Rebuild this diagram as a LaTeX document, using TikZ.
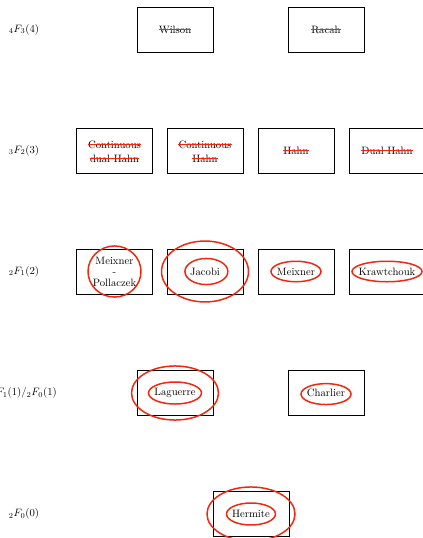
\documentclass[tikz,border=0pt]{standalone}
\definecolor{ringred}{RGB}{240,40,15}
\begin{document}
\begin{tikzpicture}[x=0.0329cm,y=-0.0329cm,
  box/.style={draw,line width=0.6pt,minimum width=2.5cm,minimum height=1.48cm,align=center,inner sep=1pt},
  txt/.style={inner sep=0pt,anchor=base},
  lab/.style={inner sep=0pt},
  strike/.style={draw=ringred,line width=1pt},
  ring/.style={draw=ringred,line width=1.4pt}]
\useasboundingbox (0,0) rectangle (423,538);
\clip (0,0) rectangle (423,538);
% row labels
\node[lab] (l1) at (24,29.5) {$_4F_3(4)$};
\node[lab] (l2) at (24,150.5) {$_3F_2(3)$};
\node[lab] (l3) at (24,271.5) {$_2F_1(2)$};
\node[lab] (l4) at (24,393) {$_1F_1(1)/{}_2F_0(1)$};
\node[lab] (l5) at (24,514) {$_2F_0(0)$};
% row 1
\node[box] (wilson) at (175,29.5) {};
\node[txt] (wilsont) at (175,33) {Wilson};
\node[box] (racah) at (326,29.5) {};
\node[txt] (racaht) at (326,33) {Racah};
% row 2
\node[box] (cdh) at (114.5,150.5) {};
\node[txt] (cdht1) at (114.5,148.5) {Continuous};
\node[txt] (cdht2) at (114.5,162.5) {dual Hahn};
\node[box] (ch) at (205,150.5) {};
\node[txt] (cht1) at (205,148.5) {Continuous};
\node[txt] (cht2) at (205,162.5) {Hahn};
\node[box] (hahn) at (296,150.5) {};
\node[txt] (hahnt) at (296,154) {Hahn};
\node[box] (dh) at (387,150.5) {};
\node[txt] (dht) at (387,154) {Dual Hahn};
% row 3
\node[box] (mp) at (114.5,271.5) {Meixner\\[-1.7pt]-\\[-1.7pt]Pollaczek};
\node[box] (jacobi) at (205,271.5) {Jacobi};
\node[box] (meixner) at (296,271.5) {Meixner};
\node[box] (kraw) at (387,271.5) {Krawtchouk};
% row 4
\node[box] (laguerre) at (175,393) {Laguerre};
\node[box] (charlier) at (326,393) {Charlier};
% row 5
\node[box] (hermite) at (251,514) {Hermite};
% strikes
\foreach \t in {cdht1,cdht2,cht1,cht2,hahnt,dht}
  \draw[strike] ([yshift=3.6pt]\t.base west) -- ([yshift=3.6pt]\t.base east);
\foreach \t in {wilsont,racaht}
  \draw[strike] ([yshift=3.2pt]\t.base west) -- ([yshift=3.2pt]\t.base east);
% rings
\draw[ring] (mp.center) ellipse [x radius=24.8pt, y radius=23.9pt];
\draw[ring] ([xshift=1.3pt]jacobi.center) ellipse [x radius=20.1pt, y radius=12.2pt];
\draw[ring] (jacobi.center) ellipse [x radius=40.7pt, y radius=28.5pt];
\draw[ring] (meixner.center) ellipse [x radius=23.4pt, y radius=9.6pt];
\draw[ring] (kraw.center) ellipse [x radius=32.8pt, y radius=9.6pt];
\draw[ring] (laguerre.center) ellipse [x radius=24.8pt, y radius=10.3pt];
\draw[ring] (laguerre.center) ellipse [x radius=40.7pt, y radius=25.3pt];
\draw[ring] ([yshift=-1pt]charlier.center) ellipse [x radius=23.4pt, y radius=9.8pt];
\draw[ring] (hermite.center) ellipse [x radius=22.9pt, y radius=10.3pt];
\draw[ring] (hermite.center) ellipse [x radius=41.2pt, y radius=25.3pt];
\end{tikzpicture}
\end{document}
